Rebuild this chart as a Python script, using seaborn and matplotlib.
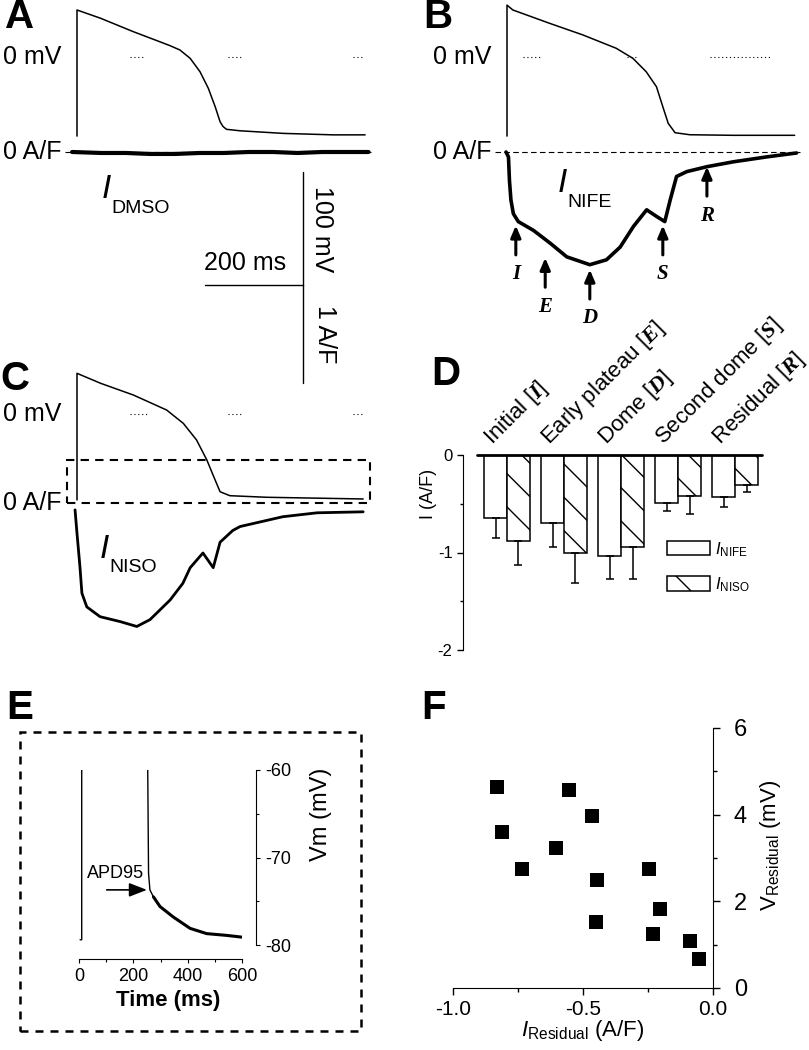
import numpy as np
import pandas as pd
import matplotlib
matplotlib.use('Agg')
import matplotlib.pyplot as plt
from matplotlib.patches import Patch, Rectangle
import seaborn as sns

sns.set_style('white')
plt.rcParams['font.family'] = ['Liberation Sans', 'DejaVu Sans']
plt.rcParams['axes.unicode_minus'] = False
plt.rcParams['axes.edgecolor'] = 'k'
plt.rcParams['xtick.color'] = 'k'
plt.rcParams['ytick.color'] = 'k'
plt.rcParams['text.color'] = 'k'
plt.rcParams['axes.labelcolor'] = 'k'
plt.rcParams['mathtext.fontset'] = 'custom'
plt.rcParams['mathtext.rm'] = 'Liberation Sans'
plt.rcParams['mathtext.it'] = 'Liberation Sans:italic'
plt.rcParams['mathtext.bf'] = 'Liberation Serif:italic:bold'

# ---------------- data ----------------
# A: DMSO, action potential (mV) and current (A/F) against time (ms)
a_ap_t = [0, 0, 48, 115, 169, 190, 210, 231, 251, 268, 282, 292, 298, 305, 333, 421, 523, 588]
a_ap_v = [-70, 41.6, 34.3, 22.4, 13.5, 10.0, 6.2, -1.2, -13.0, -27.7, -44.0, -57.3, -61.5,
          -64.0, -65.3, -67.6, -68.9, -68.9]
a_cur_t = [-10, 50, 100, 150, 200, 250, 300, 350, 400, 450, 500, 550, 595]
a_cur_i = [0.0, -0.01, -0.01, -0.02, -0.02, -0.01, -0.01, 0.0, 0.0, -0.01, 0.0, 0.0, 0.0]

# B: nifedipine-sensitive current
b_ap_t = [0, 0, 12, 87, 155, 223, 257, 284, 305, 318, 329, 343, 373, 462, 587]
b_ap_v = [-70.0, 45.9, 41.6, 29.8, 19.5, 7.7, -1.2, -13.0, -26.3, -44.0, -58.7, -67.0,
          -68.8, -69.3, -69.3]
b_cur_t = [-2, 3, 5, 8, 13, 23, 54, 88, 122, 169, 203, 231, 258, 285, 306, 322, 333,
           346, 367, 408, 462, 530, 591]
b_cur_i = [0, -0.05, -0.29, -0.49, -0.63, -0.71, -0.80, -0.93, -1.07, -1.15, -1.10,
           -0.97, -0.76, -0.59, -0.66, -0.71, -0.49, -0.25, -0.20, -0.15, -0.10, -0.05, -0.01]
b_marks = ['I', 'E', 'D', 'S', 'R']
b_mark_t = [18, 78, 169, 318, 408]
b_mark_i = [-0.75, -1.08, -1.20, -0.75, -0.15]

# C: isoproterenol + nifedipine-sensitive current
c_ap_t = [0, 0, 48, 115, 183, 217, 244, 265, 279, 292, 312, 387, 584]
c_ap_v = [-76.1, 36.0, 27.2, 16.8, 3.5, -8.3, -23.0, -40.7, -55.4, -68.8, -72.3, -73.7, -75.2]
c_cur_t = [-4, 0, 6, 10, 20, 47, 88, 122, 149, 190, 216, 231, 257, 278, 292, 318, 333,
           420, 490, 584]
c_cur_i = [-0.07, -0.31, -0.65, -0.92, -1.06, -1.16, -1.21, -1.26, -1.19, -0.99, -0.82,
           -0.66, -0.51, -0.66, -0.40, -0.28, -0.24, -0.14, -0.10, -0.09]

# D: mean current at each phase (A/F), with SEM
phases = ['Initial', 'Early plateau', 'Dome', 'Second dome', 'Residual']
phase_marks = ['I', 'E', 'D', 'S', 'R']
nife_mean = [-0.65, -0.70, -1.04, -0.49, -0.43]
nife_sem = [0.20, 0.24, 0.23, 0.08, 0.10]
niso_mean = [-0.88, -1.00, -0.94, -0.42, -0.31]
niso_sem = [0.25, 0.31, 0.33, 0.18, 0.07]

# E: repolarisation tail of an action potential
e_t = [4, 10, 10, 252, 253, 256, 261, 274, 298, 347, 409, 470, 543, 599]
e_v = [-79.4, -79.4, -50, -50, -60, -71.8, -73.7, -74.5, -75.6, -76.8, -78.1, -78.7,
       -78.9, -79.1]

# F: residual current vs residual voltage
f_i = [-0.829, -0.555, -0.465, -0.810, -0.603, -0.735, -0.446, -0.247, -0.205, -0.451,
       -0.231, -0.087, -0.054]
f_v = [4.63, 4.58, 3.98, 3.59, 3.22, 2.75, 2.50, 2.75, 1.82, 1.52, 1.25, 1.09, 0.68]

# ---------------- layout helpers (pixel based) ----------------
W, H = 809, 1050
fig = plt.figure(figsize=(W / 100, H / 100), dpi=100)
PX_MS, PX_MV, PX_AF = 0.49, 1.13, 98.0


def px_axes(x0, y0, x1, y1):
    ax = fig.add_axes([x0 / W, 1 - y1 / H, (x1 - x0) / W, (y1 - y0) / H])
    ax.set_facecolor('none')
    return ax


def trace_axes(box, x_org, y_org, px_x, px_y):
    ax = px_axes(*box)
    ax.set_xlim((box[0] - x_org) / px_x, (box[2] - x_org) / px_x)
    ax.set_ylim((y_org - box[3]) / px_y, (y_org - box[1]) / px_y)
    ax.axis('off')
    return ax


def trace(ax, t, y, lw):
    sns.lineplot(x=t, y=y, ax=ax, color='k', lw=lw, estimator=None, sort=False)


def level_label(ax, text):
    ax.annotate(text, xy=(0, 0), xytext=(-11, 0), textcoords='offset points',
                ha='right', va='center', fontsize=18)


def zero_dots(ax, starts, ends):
    ax.hlines([0] * len(starts), starts, ends, colors='k', linestyles=(0, (1, 2.5)), lw=0.8)


def cur_label(ax, t, i, sub):
    ax.text(t, i, 'I', style='italic', fontsize=24, ha='left', va='baseline')
    ax.annotate(sub, xy=(t, i), xytext=(7, -10.5), textcoords='offset points',
                fontsize=14, ha='left', va='baseline')


def panel_letter(x, y, s):
    fig.text(x / W, 1 - y / H, s, fontsize=29, fontweight='bold', ha='center', va='center')


# ---------------- A ----------------
box_a = (40, 0, 400, 400)
va = trace_axes(box_a, 77, 57, PX_MS, PX_MV)
ia = trace_axes(box_a, 77, 152, PX_MS, PX_AF)
zero_dots(va, [108, 308, 563], [139, 339, 584])
trace(va, a_ap_t, a_ap_v, 1.1)
ia.hlines(0, -25, 600, colors='k', linestyles=(0, (5, 3)), lw=0.8)
trace(ia, a_cur_t, a_cur_i, 3.0)
level_label(va, '0 mV')
level_label(ia, '0 A/F')
cur_label(ia, 51, -0.47, 'DMSO')

# scale bar
bar_t0, bar_v0, bar_i0 = 261, -202, -1.357
va.plot([bar_t0, bar_t0 + 200], [bar_v0, bar_v0], color='k', lw=1)
va.plot([bar_t0 + 200, bar_t0 + 200], [bar_v0, bar_v0 + 100], color='k', lw=1)
ia.plot([bar_t0 + 200, bar_t0 + 200], [bar_i0, bar_i0 - 1], color='k', lw=1)
va.annotate('200 ms', xy=(bar_t0 + 100, bar_v0), xytext=(-6, 16), textcoords='offset points',
            ha='center', va='center', fontsize=18)
va.annotate('100 mV', xy=(bar_t0 + 200, bar_v0 + 50), xytext=(14, 0), textcoords='offset points',
            ha='center', va='center', fontsize=18, rotation=270)
ia.annotate('1 A/F', xy=(bar_t0 + 200, bar_i0 - 0.5), xytext=(16, 0), textcoords='offset points',
            ha='center', va='center', fontsize=18, rotation=270)

# ---------------- B ----------------
box_b = (440, 0, 809, 340)
vb = trace_axes(box_b, 507, 57, PX_MS, PX_MV)
ib = trace_axes(box_b, 507, 152, PX_MS, PX_AF)
zero_dots(vb, [33, 245, 414], [67, 267, 537])
trace(vb, b_ap_t, b_ap_v, 1.1)
ib.hlines(0, -24, 598, colors='k', linestyles=(0, (5, 3)), lw=0.8)
trace(ib, b_cur_t, b_cur_i, 2.6)
level_label(vb, '0 mV')
level_label(ib, '0 A/F')
cur_label(ib, 104, -0.41, 'NIFE')
for m, t, i in zip(b_marks, b_mark_t, b_mark_i):
    ib.annotate('', xy=(t, i), xytext=(t, i - 0.3),
                arrowprops=dict(arrowstyle='-|>,head_length=0.7,head_width=0.3',
                                mutation_scale=10, lw=2.2, color='k', shrinkA=0, shrinkB=0))
    ib.annotate(m, xy=(t, i - 0.3), xytext=(0, -14), textcoords='offset points',
                ha='center', va='center', fontsize=15, family='Liberation Serif',
                style='italic', weight='bold')

# ---------------- C ----------------
box_c = (40, 340, 400, 660)
vc = trace_axes(box_c, 77, 414, PX_MS, PX_MV)
ic = trace_axes(box_c, 77, 503, PX_MS, PX_AF)
zero_dots(vc, [108, 308, 563], [143, 339, 584])
trace(vc, c_ap_t, c_ap_v, 1.1)
ic.add_patch(Rectangle((-20, 0), 618, 0.44, fill=False, ec='k', lw=1.5, ls=(0, (4, 3))))
trace(ic, c_cur_t, c_cur_i, 2.0)
level_label(vc, '0 mV')
level_label(ic, '0 A/F')
cur_label(ic, 47, -0.56, 'NISO')

# ---------------- D ----------------
axd = px_axes(463, 455, 770, 650)
df = pd.DataFrame({'phase': phases * 2,
                   'cond': ['NIFE'] * 5 + ['NISO'] * 5,
                   'I': nife_mean + niso_mean})
sns.barplot(data=df, x='phase', y='I', hue='cond', palette=['white', 'white'],
            saturation=1, edgecolor='k', linewidth=1.1, errorbar=None, legend=False,
            width=0.8, ax=axd)
for bar in axd.containers[1]:
    bar.set_hatch('\\')
for cont, mean, err in zip(axd.containers, [nife_mean, niso_mean], [nife_sem, niso_sem]):
    xs = [p.get_x() + p.get_width() / 2 for p in cont]
    axd.errorbar(xs, mean, yerr=[err, [0] * len(err)], fmt='none', ecolor='k',
                 elinewidth=1.1, capsize=3, capthick=1.1)
pos = axd.get_xticks()
axd.set_xlim(-0.772, 4.61)
axd.set_ylim(-2, 0)
axd.axhline(0, xmin=14 / 307, xmax=299 / 307, color='k', lw=2, clip_on=False, zorder=5)
sns.despine(ax=axd, bottom=True)
axd.set_xticks([])
axd.set_xlabel('')
axd.set_yticks([0, -1, -2])
axd.set_yticks([-0.5, -1.5], minor=True)
axd.tick_params(axis='y', which='both', left=True, direction='out', width=1, labelsize=12)
axd.tick_params(axis='y', which='major', length=4)
axd.tick_params(axis='y', which='minor', length=2.5)
axd.set_ylabel('I (A/F)', fontsize=13)
axd.yaxis.set_label_coords(-0.085, 0.80)
for p, name, mk in zip(pos, phases, phase_marks):
    axd.annotate(name + r' [$\mathbf{' + mk + '}$]', xy=(p, 0), xytext=(-11, 7),
                 textcoords='offset points', rotation=45, rotation_mode='anchor',
                 ha='left', va='baseline', fontsize=16, annotation_clip=False)
handles = [Patch(facecolor='white', edgecolor='k', lw=1.1),
           Patch(facecolor='white', edgecolor='k', lw=1.1, hatch='\\')]
axd.legend(handles, [r'$\mathit{I}_{\mathrm{NIFE}}$', r'$\mathit{I}_{\mathrm{NISO}}$'],
           loc='upper left', bbox_to_anchor=(0.664, 0.565), frameon=False, fontsize=12,
           handlelength=2.6, handleheight=0.95, handletextpad=0.3, labelspacing=1.0,
           borderpad=0, borderaxespad=0)

# ---------------- E ----------------
axe = px_axes(79, 770, 242, 945)
trace(axe, e_t, e_v, 1.0)
trace(axe, e_t[7:], e_v[7:], 2.2)
axe.set_xlim(0, 600)
axe.set_ylim(-80, -60)
sns.despine(ax=axe, left=True, right=False, offset=10)
axe.yaxis.tick_right()
axe.set_xticks([0, 200, 400, 600])
axe.set_xticks([100, 300, 500], minor=True)
axe.set_yticks([-80, -70, -60])
axe.set_yticks([-75, -65], minor=True)
axe.tick_params(which='both', direction='out', width=0.8, labelsize=13)
axe.tick_params(axis='x', which='both', bottom=True)
axe.tick_params(axis='y', which='both', right=True, left=False)
axe.tick_params(which='major', length=3)
axe.tick_params(which='minor', length=2)
axe.set_xlabel('Time (ms)', fontsize=16, fontweight='bold')
axe.xaxis.set_label_coords(0.55, -0.257)
axe.yaxis.set_label_position('right')
axe.set_ylabel('Vm (mV)', fontsize=17)
axe.yaxis.set_label_coords(1.417, 0.749)
axe.annotate('', xy=(250, -73.7), xytext=(102, -73.7),
             arrowprops=dict(arrowstyle='-|>,head_length=0.9,head_width=0.35',
                             mutation_scale=12, lw=1.2, color='k', shrinkA=0, shrinkB=0))
axe.text(30, -71.8, 'APD95', fontsize=13, ha='left', va='center')
fig.add_artist(Rectangle((20 / W, 1 - 1031 / H), 341 / W, 299 / H, transform=fig.transFigure,
                         fill=False, ec='k', lw=1.8, ls=(0, (3.2, 2.8))))

# ---------------- F ----------------
axf = px_axes(453, 728, 713, 988)
sns.scatterplot(x=f_i, y=f_v, marker='s', s=95, color='k', edgecolor='k', linewidth=0,
                legend=False, ax=axf)
axf.set_xlim(-1, 0)
axf.set_ylim(0, 6)
sns.despine(ax=axf, left=True, right=False)
axf.yaxis.tick_right()
axf.set_xticks([-1.0, -0.5, 0.0])
axf.set_xticklabels(['-1.0', '-0.5', '0.0'])
axf.set_xticks([-0.75, -0.25], minor=True)
axf.set_yticks([0, 2, 4, 6])
axf.set_yticks([1, 3, 5], minor=True)
axf.tick_params(which='both', direction='out', width=1, labelsize=15)
axf.tick_params(axis='y', labelsize=17)
axf.tick_params(axis='x', which='both', bottom=True)
axf.tick_params(axis='y', which='both', right=True, left=False, pad=10)
axf.tick_params(which='major', length=5)
axf.tick_params(which='minor', length=3)
axf.set_xlabel(r'$\mathit{I}_{\mathrm{Residual}}$ (A/F)', fontsize=16)
axf.xaxis.set_label_coords(0.5, -0.115)
axf.yaxis.set_label_position('right')
axf.set_ylabel(r'$\mathrm{V}_{\mathrm{Residual}}$ (mV)', fontsize=16)
axf.yaxis.set_label_coords(1.173, 0.55)

# ---------------- panel letters ----------------
for x, y, s in [(20, 17, 'A'), (438, 17, 'B'), (15, 379, 'C'),
                (446, 374, 'D'), (20, 708, 'E'), (434, 708, 'F')]:
    panel_letter(x, y, s)

fig.savefig('out.png', dpi=100)
